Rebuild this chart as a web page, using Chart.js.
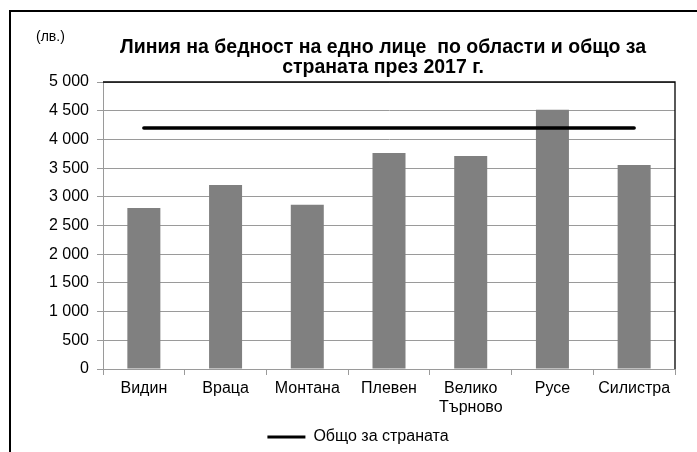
<!DOCTYPE html>
<html>
<head>
<meta charset="utf-8">
<script src="https://cdn.jsdelivr.net/npm/chart.js@4/dist/chart.umd.min.js"></script>
<style>
  html, body { margin: 0; padding: 0; background: #fff; }
  #wrap { position: relative; width: 697px; height: 452px; }
  canvas { display: block; }
</style>
</head>
<body>
<div id="wrap"><canvas id="c" width="697" height="452"></canvas></div>
<script>
const categories = ['Видин', 'Враца', 'Монтана', 'Плевен', ['Велико', 'Търново'], 'Русе', 'Силистра'];
const regionValues = [2805, 3205, 2862, 3765, 3712, 4518, 3555];
const countryValues = [4200, 4200, 4200, 4200, 4200, 4200, 4200];
const countryLabel = 'Общо за страната';
const titleLines = ['Линия на бедност на едно лице  по области и общо за', 'страната през 2017 г.'];
const unitLabel = '(лв.)';

const FONT = '"Liberation Sans", Arial, sans-serif';
const GRID = '#9a9a9a';

const decorPlugin = {
  id: 'decor',
  beforeDraw(chart) {
    const ctx = chart.ctx;
    ctx.save();
    ctx.fillStyle = '#fff';
    ctx.fillRect(0, 0, chart.width, chart.height);
    ctx.restore();
  },
  afterDatasetsDraw(chart) {
    const ctx = chart.ctx;
    const a = chart.chartArea;
    ctx.save();
    ctx.strokeStyle = '#000';
    ctx.lineWidth = 1.3;
    ctx.beginPath();
    ctx.moveTo(a.left, a.top);
    ctx.lineTo(a.right, a.top);
    ctx.lineTo(a.right, a.bottom);
    ctx.stroke();
    ctx.restore();
  },
  afterDraw(chart) {
    const ctx = chart.ctx;
    ctx.save();
    // outer frame (left + top)
    ctx.fillStyle = '#000';
    ctx.fillRect(9, 10, 2, chart.height - 10);
    ctx.fillRect(9, 10, chart.width - 9, 2);
    // title
    ctx.fillStyle = '#000';
    ctx.textAlign = 'center';
    ctx.textBaseline = 'middle';
    ctx.font = 'bold 19.5px ' + FONT;
    ctx.fillText(titleLines[0], 383, 48);
    ctx.fillText(titleLines[1], 383, 68);
    // unit
    ctx.textAlign = 'left';
    ctx.font = '14px ' + FONT;
    ctx.fillText(unitLabel, 36, 37);
    ctx.restore();
  }
};

const fmt = v => String(v).replace(/\B(?=(\d{3})+(?!\d))/g, ' ');

new Chart(document.getElementById('c'), {
  data: {
    labels: categories,
    datasets: [
      {
        type: 'line',
        label: countryLabel,
        data: countryValues,
        borderColor: '#000',
        backgroundColor: '#000',
        borderWidth: 3.5,
        borderCapStyle: 'round',
        pointRadius: 0,
        order: 0
      },
      {
        type: 'bar',
        label: 'Области',
        data: regionValues,
        backgroundColor: '#808080',
        borderColor: '#a8a8a8',
        borderWidth: 0,
        categoryPercentage: 1,
        barPercentage: 0.404,
        order: 1
      }
    ]
  },
  options: {
    responsive: false,
    animation: false,
    devicePixelRatio: 1,
    layout: { padding: { left: 41, right: 22, top: 82, bottom: -3 } },
    plugins: {
      title: { display: false },
      tooltip: { enabled: false },
      legend: {
        position: 'bottom',
        labels: {
          font: { family: FONT, size: 16 },
          color: '#000',
          boxWidth: 38,
          boxHeight: 3,
          padding: 5,
          generateLabels: () => [{
            text: countryLabel,
            fillStyle: '#000',
            strokeStyle: '#000',
            lineWidth: 0,
            hidden: false,
            datasetIndex: 0
          }]
        }
      }
    },
    scales: {
      x: {
        grid: { display: true, drawOnChartArea: false, drawTicks: true, tickLength: 6, color: GRID, offset: true },
        border: { display: true, color: GRID, width: 1 },
        ticks: { font: { family: FONT, size: 16 }, color: '#000', padding: 4, maxRotation: 0, autoSkip: false },
        afterFit(scale) { scale.height = 55; }
      },
      y: {
        min: 0,
        max: 5000,
        grid: { color: GRID, lineWidth: 1, tickLength: 6, drawTicks: true },
        border: { display: true, color: GRID, width: 1 },
        ticks: { stepSize: 500, font: { family: FONT, size: 16 }, color: '#000', padding: 8, callback: v => fmt(v) },
        afterFit(scale) { scale.width = 62; }
      }
    }
  },
  plugins: [decorPlugin]
});
</script>
</body>
</html>
